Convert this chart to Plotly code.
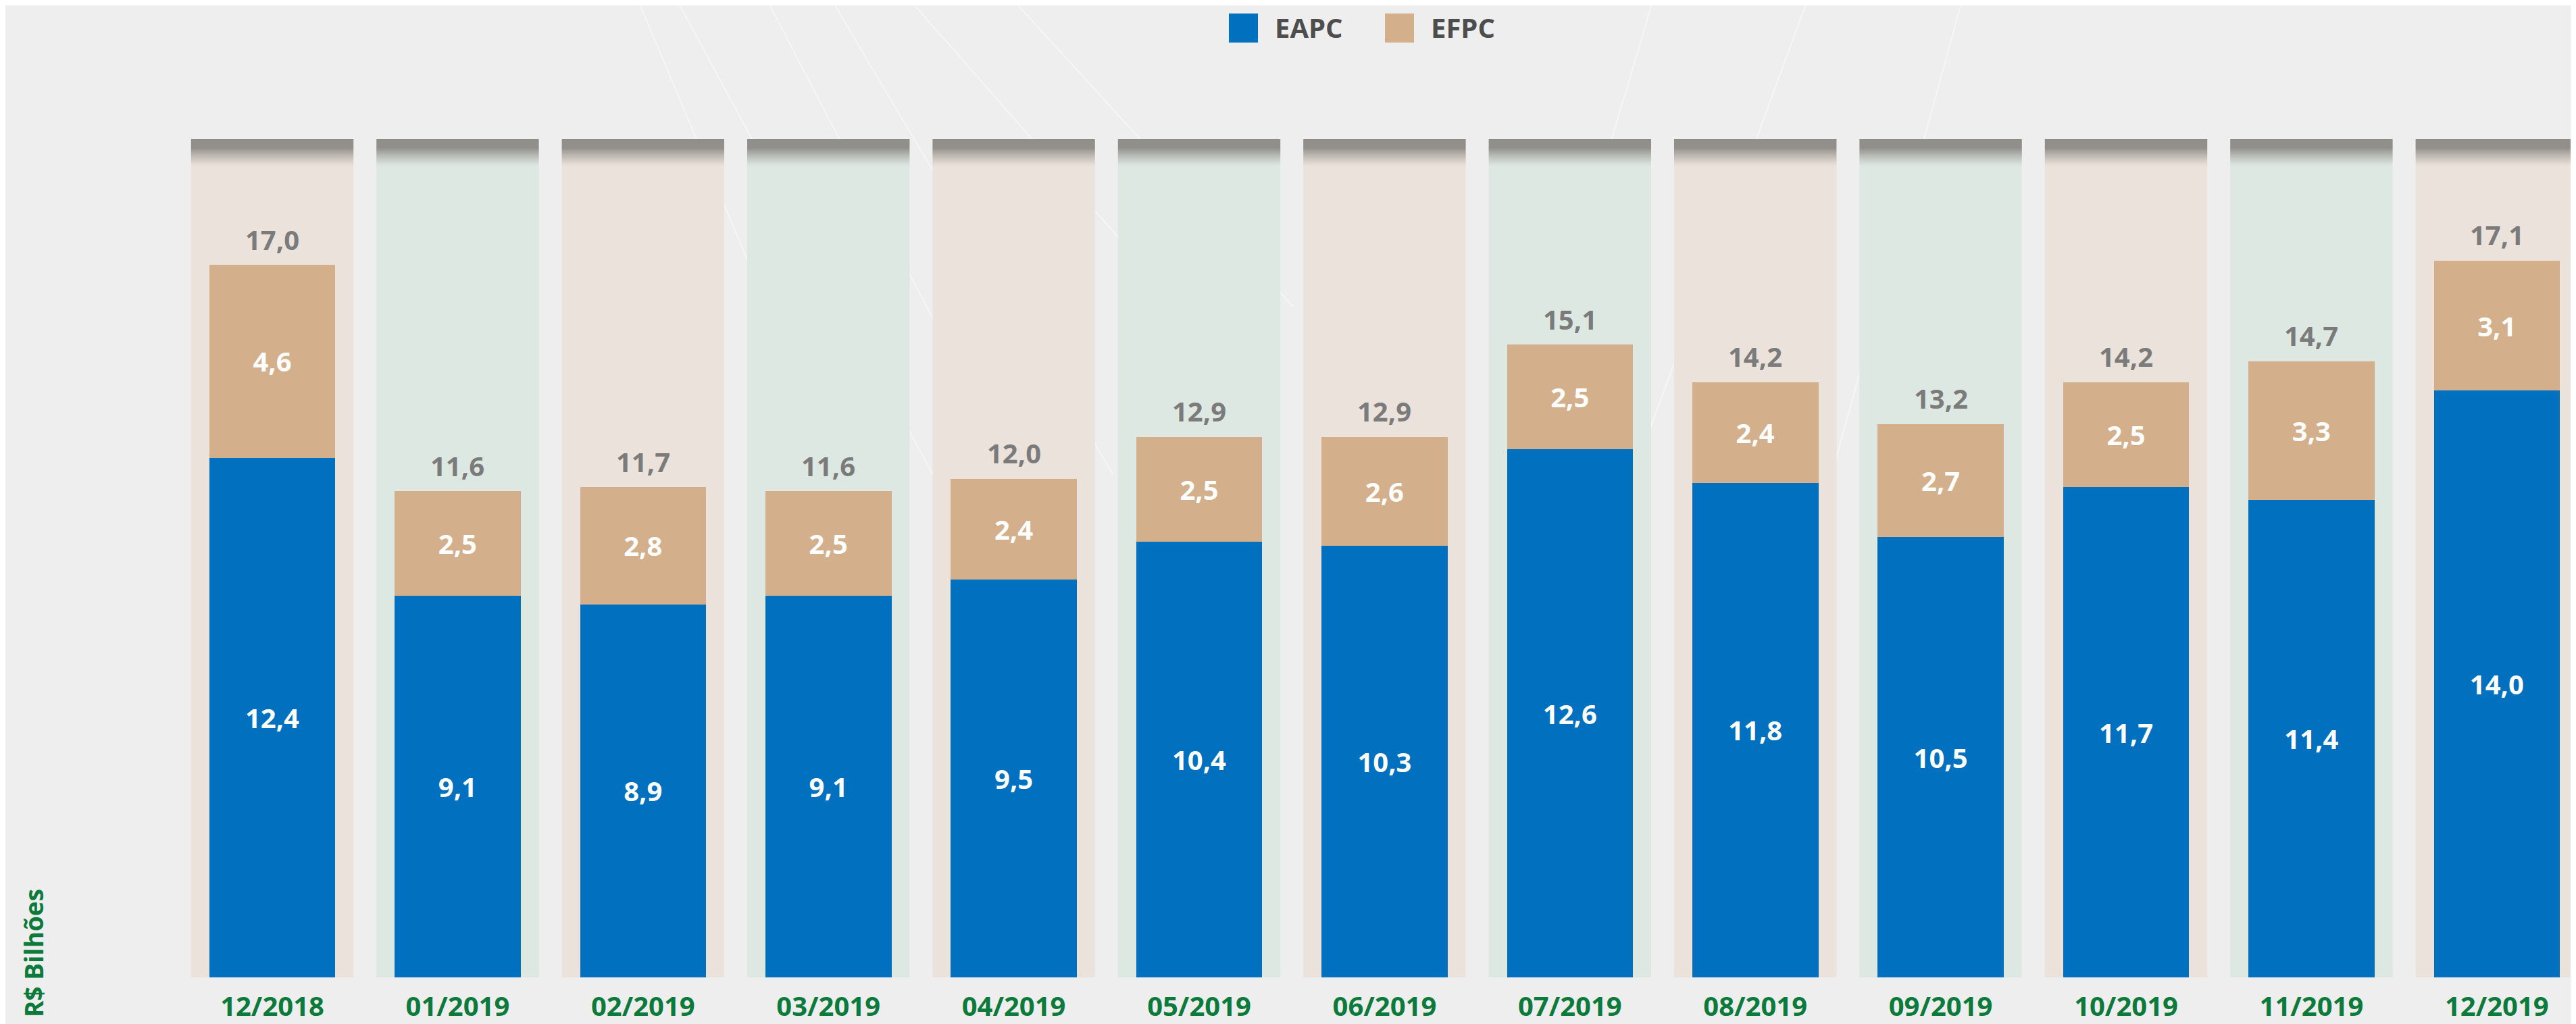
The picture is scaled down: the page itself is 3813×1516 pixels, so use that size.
import plotly.graph_objects as go

# ---------------- data ----------------
MONTHS = ["12/2018", "01/2019", "02/2019", "03/2019", "04/2019", "05/2019", "06/2019",
          "07/2019", "08/2019", "09/2019", "10/2019", "11/2019", "12/2019"]
EAPC = [12.4, 9.1, 8.9, 9.1, 9.5, 10.4, 10.3, 12.6, 11.8, 10.5, 11.7, 11.4, 14.0]
EFPC = [4.6, 2.5, 2.8, 2.5, 2.4, 2.5, 2.6, 2.5, 2.4, 2.7, 2.5, 3.3, 3.1]
TOTAL = [17.0, 11.6, 11.7, 11.6, 12.0, 12.9, 12.9, 15.1, 14.2, 13.2, 14.2, 14.7, 17.1]
SERIES_NAMES = ["EAPC", "EFPC"]
Y_TITLE = "R$ Bilhões"

# ---------------- style ----------------
W, H = 3813, 1516
OFF = 8  # page body margin compensation
C_EAPC = "#0070bf"
C_EFPC = "#d3b08b"
C_GREEN = "#0b7a3b"
C_TOTAL = "#7b7b7b"
C_LEG = "#4d4d4d"
PANEL_BEIGE = "#eae2db"
PANEL_GREEN = "#dee8e2"
PANEL_TOP = 20
FONT = "Open Sans"

M_L, M_R = 0, 0
M_T = 206 - OFF
M_B = H - (1447 - OFF)
STEP_PX = 274.4
FIRST_PX = 403 - OFF
x0r = -FIRST_PX / STEP_PX
x1r = x0r + (W - M_L - M_R) / STEP_PX

fig = go.Figure()

for vals, name, col in [(EAPC, SERIES_NAMES[0], C_EAPC), (EFPC, SERIES_NAMES[1], C_EFPC)]:
    fig.add_trace(go.Bar(
        x=MONTHS, y=vals, name=name, marker=dict(color=col, line=dict(width=0)),
        width=0.68, texttemplate="%{y:.1f}", textposition="inside", insidetextanchor="middle",
        textangle=0, constraintext="none",
        textfont=dict(family=FONT, size=40, color="white", weight=700), showlegend=False,
    ))

shapes = []
plot_h = H - M_T - M_B
unit_px = plot_h / PANEL_TOP

for i in range(len(MONTHS)):
    col = PANEL_BEIGE if i % 2 == 0 else PANEL_GREEN
    shapes.append(dict(type="rect", xref="x", yref="y", x0=i - 0.438, x1=i + 0.438,
                       y0=0, y1=PANEL_TOP, fillcolor=col, line=dict(width=0), layer="below"))
    strip = 2.0 / unit_px
    n_solid, n_fade = 7, 13
    for k in range(n_solid + n_fade):
        if k < n_solid:
            op = 0.9
        else:
            f = (k - n_solid + 1) / (n_fade + 1)
            op = 0.9 * (1 - f) ** 1.3
        shapes.append(dict(type="rect", xref="x", yref="y", x0=i - 0.438, x1=i + 0.438,
                           y0=PANEL_TOP - (k + 1) * strip, y1=PANEL_TOP - k * strip,
                           fillcolor="#88857f", opacity=op, line=dict(width=0), layer="below"))

# faint decorative background lines
for (xa, ya, xb, yb) in [(0.245, 1.17, 0.33, 0.55), (0.26, 1.17, 0.36, 0.6), (0.295, 1.17, 0.40, 0.55),
                         (0.32, 1.17, 0.43, 0.6), (0.35, 1.17, 0.47, 0.75), (0.39, 1.17, 0.50, 0.8),
                         (0.64, 1.17, 0.58, 0.55), (0.70, 1.17, 0.62, 0.5), (0.76, 1.17, 0.70, 0.5)]:
    shapes.append(dict(type="line", xref="paper", yref="paper", x0=xa, y0=ya, x1=xb, y1=yb,
                       line=dict(color="rgba(255,255,255,0.45)", width=2), layer="below"))


def px_x(p):
    return (p - OFF - M_L) / (W - M_L - M_R)


def px_y(p):
    return (H - M_B - (p - OFF)) / plot_h


legend_items = [(SERIES_NAMES[0], C_EAPC, 1819, 1885), (SERIES_NAMES[1], C_EFPC, 2050, 2116)]
annotations = []
for name, col, sx, tx in legend_items:
    shapes.append(dict(type="rect", xref="paper", yref="paper", x0=px_x(sx), x1=px_x(sx + 43),
                       y0=px_y(63), y1=px_y(20), fillcolor=col, line=dict(width=0)))
    annotations.append(dict(xref="paper", yref="paper", x=px_x(tx), y=px_y(41), text=name,
                            showarrow=False, xanchor="left", yanchor="middle",
                            font=dict(family=FONT, size=40, color=C_LEG, weight=700)))

for i, t in enumerate(TOTAL):
    annotations.append(dict(x=i, y=EAPC[i] + EFPC[i], xref="x", yref="y",
                            text=f"{t:.1f}".replace(".", ","), showarrow=False,
                            yanchor="middle", yshift=38,
                            font=dict(family=FONT, size=40, color=C_TOTAL, weight=700)))

annotations.append(dict(xref="paper", yref="paper", x=px_x(49), y=px_y(1508), text=Y_TITLE,
                        textangle=-90, showarrow=False, xanchor="center", yanchor="bottom",
                        font=dict(family=FONT, size=37, color=C_GREEN, weight=700)))

fig.update_layout(
    width=W, height=H, barmode="stack", separators=",.",
    margin=dict(l=M_L, r=M_R, t=M_T, b=M_B, pad=0),
    paper_bgcolor="#eeeeee", plot_bgcolor="rgba(0,0,0,0)",
    shapes=shapes, annotations=annotations, showlegend=False,
    xaxis=dict(range=[x0r, x1r], showgrid=False, zeroline=False, showline=False, ticks="",
               tickfont=dict(family=FONT, size=40, color=C_GREEN, weight=700),
               ticklabelstandoff=16, fixedrange=True),
    yaxis=dict(range=[0, PANEL_TOP], visible=False, fixedrange=True),
)

fig.write_html("out.html")
